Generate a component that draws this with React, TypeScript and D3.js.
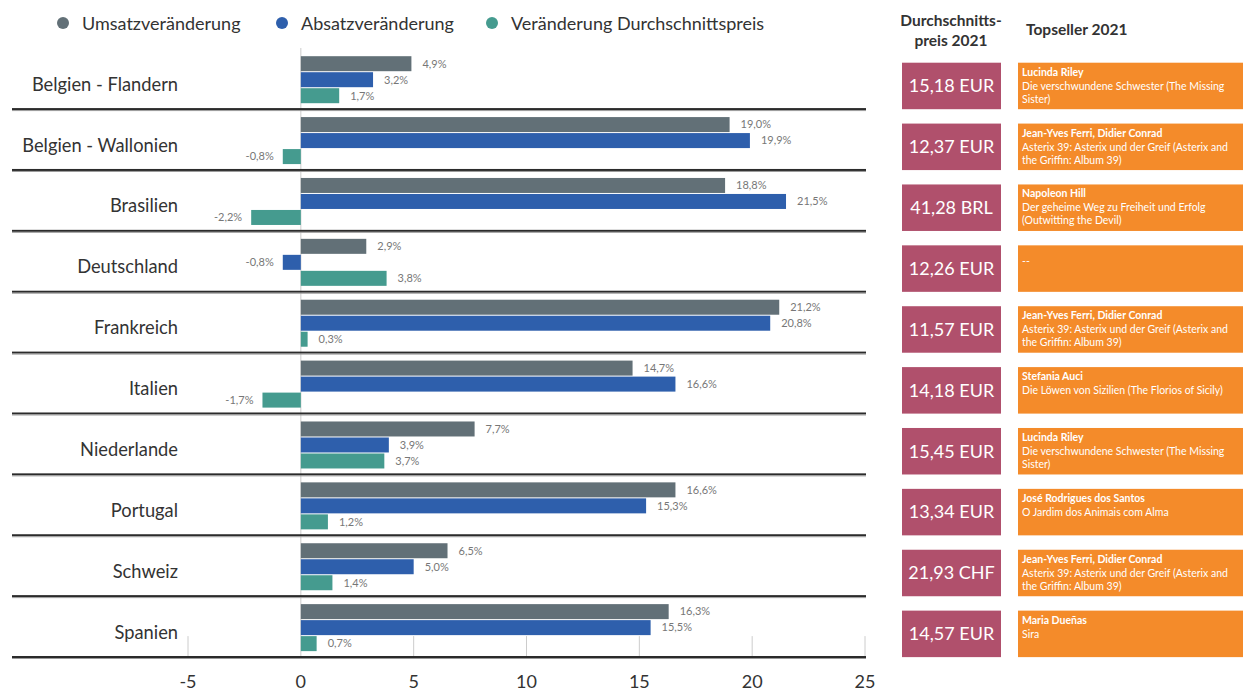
import React from "react";
import * as d3 from "d3";

const countries = ["Belgien - Flandern", "Belgien - Wallonien", "Brasilien", "Deutschland", "Frankreich", "Italien", "Niederlande", "Portugal", "Schweiz", "Spanien"];
const umsatz = [4.9, 19.0, 18.8, 2.9, 21.2, 14.7, 7.7, 16.6, 6.5, 16.3];
const absatz = [3.2, 19.9, 21.5, -0.8, 20.8, 16.6, 3.9, 15.3, 5.0, 15.5];
const preis = [1.7, -0.8, -2.2, 3.8, 0.3, -1.7, 3.7, 1.2, 1.4, 0.7];
const avgPrice = ["15,18 EUR", "12,37 EUR", "41,28 BRL", "12,26 EUR", "11,57 EUR", "14,18 EUR", "15,45 EUR", "13,34 EUR", "21,93 CHF", "14,57 EUR"];
const topAuthors = ["Lucinda Riley", "Jean-Yves Ferri, Didier Conrad", "Napoleon Hill", "", "Jean-Yves Ferri, Didier Conrad", "Stefania Auci", "Lucinda Riley", "José Rodrigues dos Santos", "Jean-Yves Ferri, Didier Conrad", "Maria Dueñas"];
const topTitles = [
  ["Die verschwundene Schwester (The Missing", "Sister)"],
  ["Asterix 39: Asterix und der Greif (Asterix and", "the Griffin: Album 39)"],
  ["Der geheime Weg zu Freiheit und Erfolg", "(Outwitting the Devil)"],
  ["--"],
  ["Asterix 39: Asterix und der Greif (Asterix and", "the Griffin: Album 39)"],
  ["Die Löwen von Sizilien (The Florios of Sicily)"],
  ["Die verschwundene Schwester (The Missing", "Sister)"],
  ["O Jardim dos Animais com Alma"],
  ["Asterix 39: Asterix und der Greif (Asterix and", "the Griffin: Album 39)"],
  ["Sira"],
];
const seriesNames = ["Umsatzveränderung", "Absatzveränderung", "Veränderung Durchschnittspreis"];
const seriesColors = ["#627077", "#2e5fac", "#459b8f"];
const xTicks = [-5, 0, 5, 10, 15, 20, 25];

const W = 1243, H = 692;
const FONT = "Lato, 'Open Sans', sans-serif";

export default function App() {
  const x = d3.scaleLinear().domain([-5, 25]).range([188, 865]);
  const y = d3.scaleBand<number>().domain(d3.range(countries.length)).range([48.2, 657]).padding(0);
  const series = [umsatz, absatz, preis];
  const fmt = (v: number) => (v < 0 ? "-" : "") + d3.format(".1f")(Math.abs(v)).replace(".", ",") + "%";
  const legendX = [63, 282, 492];
  const last = countries.length - 1;

  return (
    <svg width={W} height={H} style={{ position: "absolute", left: 0, top: 0, background: "#fff" }} fontFamily={FONT}>
      {/* legend */}
      {seriesNames.map((n, i) => (
        <g key={n}>
          <circle cx={legendX[i]} cy={23} r={6} fill={seriesColors[i]} />
          <text x={legendX[i] + 19} y={30} fontSize={18} fill="#333">{n}</text>
        </g>
      ))}
      {/* headers */}
      <text x={951} y={26} fontSize={15.5} fontWeight="bold" fill="#333" textAnchor="middle">Durchschnitts-</text>
      <text x={951} y={46} fontSize={15.5} fontWeight="bold" fill="#333" textAnchor="middle">preis 2021</text>
      <text x={1026} y={35} fontSize={15.5} fontWeight="bold" fill="#333">Topseller 2021</text>

      {/* grid lines in bottom gap */}
      {xTicks.filter((t) => t !== 0).map((t) => (
        <line key={t} x1={x(t)} x2={x(t)} y1={y(last)! + 8 + 2 * 16} y2={657} stroke="#ccc" strokeWidth={1} />
      ))}
      <line x1={x(0)} x2={x(0)} y1={48} y2={657} stroke="#ccc" strokeWidth={1} />

      {countries.map((c, r) => {
        const top = y(r)!;
        const bottom = top + y.bandwidth();
        return (
          <g key={c}>
            <text x={178} y={top + 42.5} fontSize={18.3} fill="#333" textAnchor="end">{c}</text>
            {series.map((s, si) => {
              const v = s[r];
              const by = top + 8 + si * 16;
              const x0 = x(Math.min(0, v));
              const x1 = x(Math.max(0, v));
              return (
                <g key={si}>
                  <rect x={x0} y={by} width={x1 - x0} height={15} fill={seriesColors[si]} />
                  <text
                    x={v >= 0 ? x1 + 11 : x0 - 9}
                    y={by + 7.5}
                    dy="0.35em"
                    fontSize={11}
                    fill="#777"
                    textAnchor={v >= 0 ? "start" : "end"}
                  >
                    {fmt(v)}
                  </text>
                </g>
              );
            })}
            <rect x={12} y={bottom - 1} width={854} height={2} fill="#2b2b2b" />
            <rect x={12} y={bottom + 1} width={854} height={1} fill="#999" />
            {/* price box */}
            <rect x={902} y={top + 14.5} width={99} height={46.5} fill="#b0506c" />
            <text x={951.5} y={top + 14.5 + 23.25} dy="0.35em" fontSize={18} fill="#fff" textAnchor="middle">{avgPrice[r]}</text>
            {/* topseller box */}
            <rect x={1018} y={top + 14.5} width={225} height={46.5} fill="#f48b2a" />
            {topAuthors[r] ? (
              <text x={1022} y={top + 14.5 + 13} fontSize={10.5} fontWeight="bold" fill="#fff">{topAuthors[r]}</text>
            ) : null}
            {topTitles[r].map((line, li) => (
              <text key={li} x={1022} y={top + 14.5 + (topAuthors[r] ? 27 : 20) + li * 13} fontSize={10.5} fill="#fff">{line}</text>
            ))}
          </g>
        );
      })}

      {/* x axis labels */}
      {xTicks.map((t) => (
        <text key={t} x={x(t)} y={688} fontSize={18} fill="#333" textAnchor="middle">{t}</text>
      ))}
    </svg>
  );
}
